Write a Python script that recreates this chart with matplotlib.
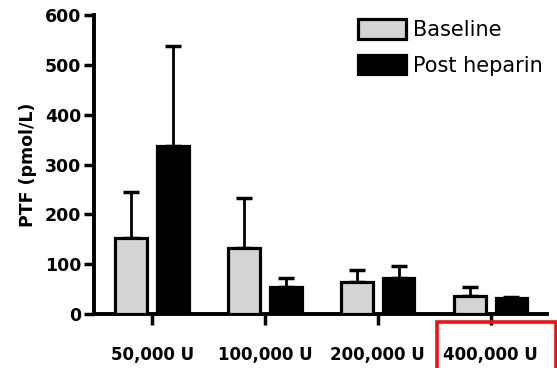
import matplotlib
matplotlib.use("Agg")
import matplotlib.pyplot as plt
import numpy as np
from matplotlib.patches import Rectangle

doses = ["50,000 U", "100,000 U", "200,000 U", "400,000 U"]
baseline = [153, 133, 64, 36]
baseline_err = [91, 99, 24, 18]
post_heparin = [338, 55, 72, 33]
post_heparin_err = [200, 17, 25, 1]
y_ticks = [0, 100, 200, 300, 400, 500, 600]

plt.rcParams["font.family"] = ["DejaVu Sans"]

fig = plt.figure(figsize=(5.57, 3.68), dpi=100)
ax = fig.add_axes([94 / 557, 54 / 368, 453 / 557, 299 / 368])

x = np.arange(len(doses))
w = 0.28
off = 0.185
ax.bar(x - off, baseline, w, color="#d4d4d4", edgecolor="black", linewidth=2.3,
       label="Baseline", zorder=3)
ax.bar(x + off, post_heparin, w, color="black", edgecolor="black", linewidth=2.3,
       label="Post heparin", zorder=3)
ax.errorbar(x - off, baseline, yerr=[np.zeros(len(x)), baseline_err], fmt="none",
            ecolor="black", elinewidth=2, capsize=5.8, capthick=2.5, zorder=2)
ax.errorbar(x + off, post_heparin, yerr=[np.zeros(len(x)), post_heparin_err], fmt="none",
            ecolor="black", elinewidth=2, capsize=5.8, capthick=2.5, zorder=2)

ax.set_xlim(-0.515, 3.5)
ax.set_ylim(0, 600)
ax.set_yticks(y_ticks)
ax.set_xticks(x)
ax.set_xticklabels(doses, fontweight="bold", fontsize=12)
for lbl in ax.get_yticklabels():
    lbl.set_fontweight("bold")
    lbl.set_fontsize(12.5)
ax.tick_params(axis="y", direction="out", length=7, width=2.5, pad=2)
ax.tick_params(axis="x", direction="out", length=8, width=2.5, pad=15)
for s in ["top", "right"]:
    ax.spines[s].set_visible(False)
for s in ["left", "bottom"]:
    ax.spines[s].set_linewidth(2.8)
ax.set_ylabel("PTF (pmol/L)", fontweight="bold", fontsize=12.5, labelpad=6)

leg = ax.legend(loc="upper left", bbox_to_anchor=(348 / 557, 1 - 9 / 368),
                bbox_transform=fig.transFigure, frameon=False, borderpad=0,
                fontsize=15, handlelength=2.3, handleheight=1.05,
                handletextpad=0.3, labelspacing=0.7)

fig.patches.append(Rectangle((437 / 557, -0.02), 119 / 557, (368 - 322) / 368 + 0.02,
                             transform=fig.transFigure, fill=False,
                             edgecolor="#e8141b", linewidth=2.6))

fig.savefig("out.png", dpi=100)
